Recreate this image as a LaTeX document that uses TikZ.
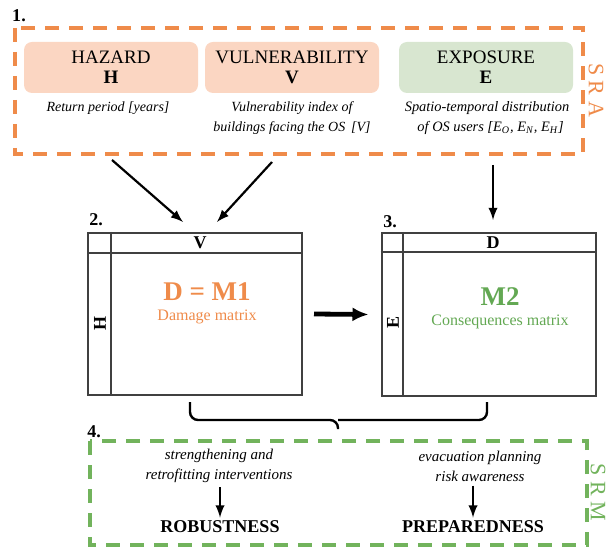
\documentclass[tikz,border=0pt]{standalone}
\usepackage{fontspec}
\setmainfont{Liberation Serif}
\usetikzlibrary{positioning,arrows.meta}
\definecolor{sraorange}{HTML}{EF8B4A}
\definecolor{srafill}{HTML}{FBD6C2}
\definecolor{srmgreen}{HTML}{72B35C}
\definecolor{expfill}{HTML}{D8E6D0}
\definecolor{mgreen}{HTML}{63A853}
\tikzset{
  factor/.style={rounded corners=4pt,minimum width=87pt,minimum height=25.5pt,inner sep=0pt,align=center,font=\fontsize{9.5}{10}\selectfont},
  note/.style={align=center,inner sep=0pt,font=\fontsize{7.5}{10}\selectfont\itshape},
  numlabel/.style={inner sep=0pt,font=\fontsize{9}{10}\selectfont\bfseries},
  matbox/.style={draw=black!75,line width=1pt,minimum width=107pt,minimum height=81pt,inner sep=0pt},
  matlabel/.style={inner sep=0pt,font=\fontsize{9}{10}\selectfont\bfseries},
  sideword/.style={rotate=-90,inner sep=0pt,font=\fontsize{11}{12}\selectfont},
  zone/.style={line width=2pt,dash pattern=on 7pt off 5pt},
  goal/.style={inner sep=0pt,font=\fontsize{9}{10}\selectfont\bfseries}
}
\begin{document}
\begin{tikzpicture}[x=0.5pt,y=-0.5pt,>=latex]
    \useasboundingbox (0,0) rectangle (608,549);
    \draw[zone,sraorange] (15,28) rectangle (583,154);
    \path (19,16) node[numlabel](n1){1.};
    \path (111,67.5) node[factor,fill=srafill](haz){HAZARD\\\textbf{H}};
    \path (292,67.5) node[factor,fill=srafill](vul){VULNERABILITY\\\textbf{V}};
    \path (486,67.5) node[factor,fill=expfill](expo){EXPOSURE\\\textbf{E}};
    \path (108,108) node[note,font=\fontsize{7}{10}\selectfont\itshape](hazn){Return period [years]};
    \path (292,118) node[note,font=\fontsize{7}{10}\selectfont\itshape](vuln){Vulnerability index of\\buildings facing the OS\,\ [V]};
    \path (487,118) node[note,font=\fontsize{7.2}{10}\selectfont\itshape](expn){Spatio-temporal distribution\\\ \ of OS users [E\textsubscript{O}, E\textsubscript{N}, E\textsubscript{H}]};
    \path[sraorange] (596,90) node[sideword](sra){S R A};
    \coordinate (h0) at (112,160);
    \coordinate (v0) at (272,162);
    \coordinate (e0) at (493,165);
    \path (96,220) node[numlabel](n2){2.};
    \path (195,314) node[matbox](m1){};
    \draw[black!75,line width=1pt] ([xshift=12pt]m1.north west) -- ([xshift=12pt]m1.south west);
    \draw[black!75,line width=1pt] ([yshift=-10.5pt]m1.north west) -- ([yshift=-10.5pt]m1.north east);
    \path (200,243) node[matlabel](m1v){V};
    \path (100,323) node[matlabel,rotate=90](m1h){H};
    \path[sraorange] (207,292) node[inner sep=0pt,font=\fontsize{13.5}{14}\selectfont\bfseries](m1t){D = M1};
    \path[sraorange] (207,317) node[inner sep=0pt,font=\fontsize{8}{9}\selectfont](m1s){Damage matrix};
    \coordinate (h1) at (183,222);
    \coordinate (v1) at (217,222);
    \draw[->,line width=1.1pt] (h0) -- (h1);
    \draw[->,line width=1.1pt] (v0) -- (v1);
    \path (390,222) node[numlabel](n3){3.};
    \path (488.5,314.5) node[matbox,minimum height=81.5pt](m2){};
    \draw[black!75,line width=1pt] ([xshift=11pt]m2.north west) -- ([xshift=11pt]m2.south west);
    \draw[black!75,line width=1pt] ([yshift=-10.25pt]m2.north west) -- ([yshift=-10.25pt]m2.north east);
    \path (493,243) node[matlabel](m2d){D};
    \path (393,322) node[matlabel,rotate=90](m2e){E};
    \path[mgreen] (500,297) node[inner sep=0pt,font=\fontsize{13.5}{14}\selectfont\bfseries](m2t){M2};
    \path[mgreen] (500,322) node[inner sep=0pt,font=\fontsize{8}{9}\selectfont](m2s){Consequences matrix};
    \coordinate (e1) at (493,220);
    \draw[->,line width=1.1pt] (e0) -- (e1);
    \draw[-{Latex[length=8pt,width=7pt]},line width=2.4pt] ([xshift=5.5pt]m1.east) -- ([xshift=-6pt]m2.west);
    \coordinate (bl) at (190,402);
    \coordinate (br) at (487,402);
    \coordinate (bt) at (338,429);
    \draw[line width=1.2pt,rounded corners=4pt] (bl) |- (bt |- 0,420) -- (bt);
    \draw[line width=1.2pt,rounded corners=4pt] (br) |- (bt |- 0,420);
    \path (94,432) node[numlabel](n4){4.};
    \draw[zone,srmgreen] (90,441) rectangle (587,545);
    \path (219,466) node[note](robn){strengthening and\\retrofitting interventions};
    \path (220,527) node[goal](rob){ROBUSTNESS};
    \path (480,466) node[note](pren){evacuation planning\\risk awareness};
    \path (473,527) node[goal](pre){PREPAREDNESS};
    \draw[->,line width=1.1pt] ([yshift=-2pt]robn.south -| rob.north) -- ([yshift=1.5pt]rob.north);
    \draw[->,line width=1.1pt] ([yshift=-2pt]pren.south -| pre.north) -- ([yshift=1.5pt]pre.north);
    \path[srmgreen] (598,492) node[sideword](srm){S R M};
\end{tikzpicture}
\end{document}
